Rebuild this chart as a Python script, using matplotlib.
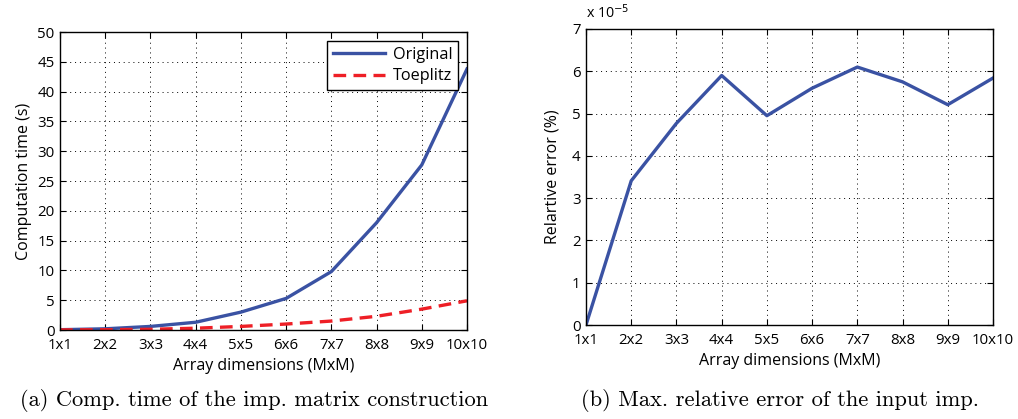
import matplotlib
matplotlib.use("Agg")
import matplotlib.pyplot as plt
import numpy as np

categories = ["1x1", "2x2", "3x3", "4x4", "5x5", "6x6", "7x7", "8x8", "9x9", "10x10"]
original = [0.05, 0.2, 0.6, 1.3, 3.0, 5.3, 9.8, 18.0, 27.7, 43.8]
toeplitz = [0.02, 0.05, 0.12, 0.3, 0.6, 1.0, 1.5, 2.3, 3.5, 4.9]
rel_error = [0.0, 3.41, 4.77, 5.90, 4.95, 5.60, 6.10, 5.75, 5.21, 5.84]  # x 1e-5

blue = "#3a52a3"
red = "#ee1f26"
font = "Open Sans"
fs = 10.8
lfs = 11.5

fig = plt.figure(figsize=(10.18, 4.19), dpi=100)
W, H = 1018, 419
ax1 = fig.add_axes([60 / W, 1 - 330 / H, 407 / W, 298 / H])
ax2 = fig.add_axes([586 / W, 1 - 325 / H, 407 / W, 296 / H])

x = np.arange(len(categories))

def style(ax):
    ax.set_xlim(0, len(categories) - 1)
    ax.set_xticks(x)
    ax.set_xticklabels(categories, fontfamily=font, fontsize=fs)
    ax.tick_params(direction="in", top=True, right=True, length=4, width=0.8)
    ax.tick_params(axis="x", pad=6)
    ax.tick_params(axis="y", pad=4)
    for lbl in ax.get_yticklabels():
        lbl.set_fontfamily(font)
        lbl.set_fontsize(fs)
    ax.grid(True, linestyle=(0, (1, 4)), color="black", linewidth=0.7)
    for s in ax.spines.values():
        s.set_linewidth(1.0)
    ax.set_xlabel("Array dimensions (MxM)", fontfamily=font, fontsize=lfs, labelpad=3)

ax1.plot(x, original, color=blue, linewidth=2.4, label="Original")
ax1.plot(x, toeplitz, color=red, linewidth=2.4, linestyle=(0, (3.8, 2.2)), label="Toeplitz")
ax1.set_ylim(0, 50)
ax1.set_yticks(np.arange(0, 51, 5))
style(ax1)
ax1.set_ylabel("Computation time (s)", fontfamily=font, fontsize=lfs, labelpad=4)
leg = ax1.legend(loc="upper right", prop={"family": font, "size": 11.7}, fancybox=False,
                 edgecolor="black", framealpha=1, handlelength=3.2, borderpad=0.35,
                 labelspacing=0.35, handletextpad=0.5, borderaxespad=0.55)
leg.get_frame().set_linewidth(1.0)

ax2.plot(x, rel_error, color=blue, linewidth=2.4)
ax2.set_ylim(0, 7)
ax2.set_yticks(np.arange(0, 8, 1))
style(ax2)
ax2.set_ylabel("Relartive error (%)", fontfamily=font, fontsize=lfs, labelpad=8)
ax2.text(0.0, 1.025, r"x 10$^{-5}$", transform=ax2.transAxes, fontfamily=font,
         fontsize=fs - 0.5, ha="left", va="bottom")

fig.text(254 / W, 1 - 400 / H, "(a) Comp. time of the imp. matrix construction",
         fontfamily="cmr10", fontsize=16.2, ha="center", va="center")
fig.text(780 / W, 1 - 400 / H, "(b) Max. relative error of the input imp.",
         fontfamily="cmr10", fontsize=16.2, ha="center", va="center")

fig.savefig("out.png", dpi=100)
